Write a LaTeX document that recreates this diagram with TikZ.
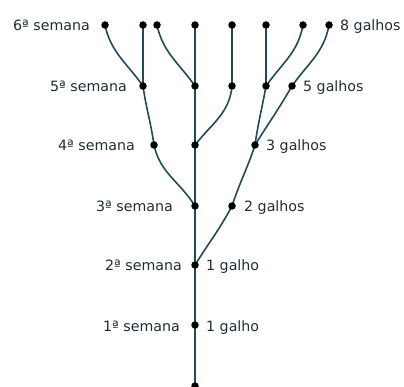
\documentclass[tikz,border=0pt]{standalone}
\usepackage{fontspec}
\setmainfont{DejaVu Sans}
\usetikzlibrary{calc,backgrounds}
\definecolor{branch}{RGB}{36,74,88}
\definecolor{txt}{RGB}{32,44,54}
\begin{document}
\begin{tikzpicture}[x=1pt,y=-1pt,
  dot/.style={circle,fill=black,inner sep=0pt,minimum size=7.5pt},
  lbl/.style={inner sep=0pt,text=txt,font=\fontsize{14.2}{17}\selectfont},
  br/.style={draw=branch,line width=1.6pt}]
\useasboundingbox (0,0) rectangle (404,387);
% dots
\node[dot] (r6a) at (105,25) {};
\node[dot] (r6b) at (143,25) {};
\node[dot] (r6c) at (157,25) {};
\node[dot] (r6d) at (195,25) {};
\node[dot] (r6e) at (232,25) {};
\node[dot] (r6f) at (266,25) {};
\node[dot] (r6g) at (303,25) {};
\node[dot] (r6h) at (329,25) {};
\node[dot] (r5a) at (143,86) {};
\node[dot] (r5b) at (195,86) {};
\node[dot] (r5c) at (232,86) {};
\node[dot] (r5d) at (266,86) {};
\node[dot] (r5e) at (292,86) {};
\node[dot] (r4a) at (154,145) {};
\node[dot] (r4b) at (195,145) {};
\node[dot] (r4c) at (255,145) {};
\node[dot] (r3a) at (195,206) {};
\node[dot] (r3b) at (232,206) {};
\node[dot] (r2) at (195,265) {};
\node[dot] (r1) at (195,325) {};
\node[dot] (r0) at (195,386) {};
% branches
\begin{scope}[on background layer]
\draw[br] (r0.center) -- (r1.center) -- (r2.center) -- (r3a.center) -- (r4b.center) -- (r5b.center) -- (r6d.center);
\draw[br] (r2.center) to[out=58,in=-118] (r3b.center);
\draw[br] (r3b.center) to[out=72,in=-108] (r4c.center);
\draw[br] (r4c.center) to[out=82,in=-100] (r5d.center);
\draw[br] (r4c.center) to[out=58,in=-120] (r5e.center);
\draw[br] (r5d.center) -- (r6f.center);
\draw[br] (r5d.center) to[out=55,in=-100] (r6g.center);
\draw[br] (r5e.center) to[out=55,in=-100] (r6h.center);
\draw[br] (r3a.center) to[out=122,in=-78] (r4a.center);
\draw[br] (r4a.center) to[out=98,in=-82] (r5a.center);
\draw[br] (r5a.center) -- (r6b.center);
\draw[br] (r5a.center) to[out=125,in=-78] (r6a.center);
\draw[br] (r4b.center) to[out=52,in=-95] (r5c.center);
\draw[br] (r5c.center) -- (r6e.center);
\draw[br] (r5b.center) to[out=125,in=-78] (r6c.center);
\end{scope}
% labels
\node[lbl,anchor=base east] (l6) at ($(r6a)+(-15,6)$) {6ª semana};
\node[lbl,anchor=base east] (l5) at ($(r5a)+(-16,6)$) {5ª semana};
\node[lbl,anchor=base east] (l4) at ($(r4a)+(-19,6)$) {4ª semana};
\node[lbl,anchor=base east] (l3) at ($(r3a)+(-22,6)$) {3ª semana};
\node[lbl,anchor=base east] (l2) at ($(r2)+(-13,6)$) {2ª semana};
\node[lbl,anchor=base east] (l1) at ($(r1)+(-15,6)$) {1ª semana};
\node[lbl,anchor=base west] (g8) at ($(r6h)+(11,6)$) {8 galhos};
\node[lbl,anchor=base west] (g5) at ($(r5e)+(11,6)$) {5 galhos};
\node[lbl,anchor=base west] (g3) at ($(r4c)+(11,6)$) {3 galhos};
\node[lbl,anchor=base west] (g2) at ($(r3b)+(12,6)$) {2 galhos};
\node[lbl,anchor=base west] (g1a) at ($(r2)+(11,6)$) {1 galho};
\node[lbl,anchor=base west] (g1b) at ($(r1)+(11,6)$) {1 galho};
\end{tikzpicture}
\end{document}
